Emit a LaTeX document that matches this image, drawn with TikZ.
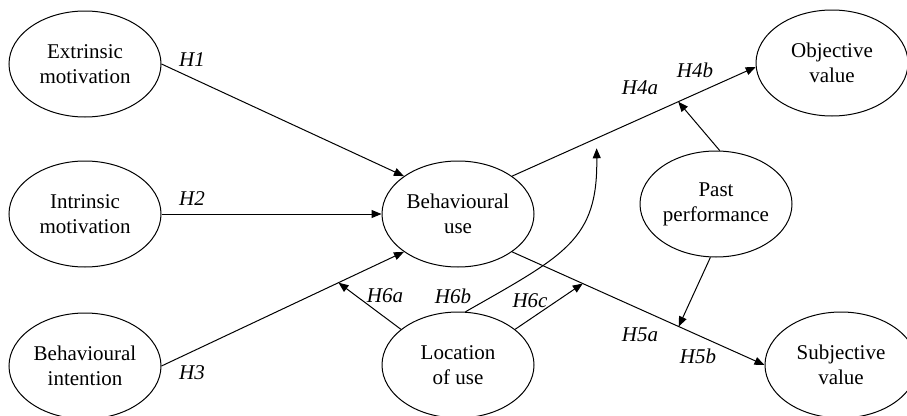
\documentclass[tikz,border=0pt]{standalone}
\usepackage{fontspec}
\setmainfont{Liberation Serif}
\usetikzlibrary{shapes.geometric,arrows.meta,calc}
\begin{document}
\begin{tikzpicture}[x=1pt,y=-1pt,
  construct/.style={ellipse,draw,line width=1pt,minimum width=152pt,minimum height=106pt,inner sep=0pt,align=center,font=\fontsize{21}{25}\selectfont},
  hyp/.style={font=\fontsize{21}{25}\selectfont\itshape,inner sep=0pt},
  link/.style={line width=1pt,-{Triangle[length=10pt,width=8pt]}}]
\useasboundingbox (0,0) rectangle (907,415);
\clip (0,0) rectangle (907,415);
\fill[white] (0,0) rectangle (907,415);

\node[construct] (ext) at (85,64) {Extrinsic\\motivation};
\node[construct] (intr) at (85,214) {Intrinsic\\motivation};
\node[construct] (bint) at (85,366) {Behavioural\\intention};
\node[construct] (buse) at (458,214) {Behavioural\\use};
\node[construct] (loc) at (458,365) {Location\\of use};
\node[construct] (pp) at (716,204) {Past\\performance};
\node[construct] (obj) at (832,63) {Objective\\value};
\node[construct] (subj) at (841,365) {Subjective\\value};

\draw[link] (ext.east) -- (buse.145);
\draw[link] (intr.east) -- (buse.west);
\draw[link] (bint.east) -- (buse.215);
\draw[link] (buse.35) -- (obj.183);
\draw[link] (buse.-35) -- (subj.west);

\coordinate (h4b) at ($(buse.35)!0.682!(obj.183)$);
\coordinate (h5b) at ($(buse.-35)!0.66!(subj.west)$);
\coordinate (h6a) at ($(bint.east)!0.73!(buse.215)$);
\coordinate (h6c) at ($(buse.-35)!0.28!(subj.west)$);
\coordinate (h6bline) at ($(buse.35)!0.347!(obj.183)$);
\coordinate (h6b) at ([yshift=-10pt]h6bline);

\draw[link] (pp.86) -- (h4b);
\draw[link] (pp.264) -- (h5b);
\draw[link] (loc.148) -- (h6a);
\draw[link] (loc.32) -- (h6c);
\draw[link] (loc.82) .. controls (565,255) and (598,240) .. (h6b);

\node[hyp] (lh1) at (192,60) {H1};
\node[hyp] (lh2) at (192,199) {H2};
\node[hyp] (lh3) at (192,373) {H3};
\node[hyp] (lh4a) at (640,88) {H4a};
\node[hyp] (lh4b) at (695,70) {H4b};
\node[hyp] (lh5a) at (640,335) {H5a};
\node[hyp] (lh5b) at (698,356) {H5b};
\node[hyp] (lh6a) at (385,296) {H6a};
\node[hyp] (lh6b) at (453,296) {H6b};
\node[hyp] (lh6c) at (530,301) {H6c};
\end{tikzpicture}
\end{document}
